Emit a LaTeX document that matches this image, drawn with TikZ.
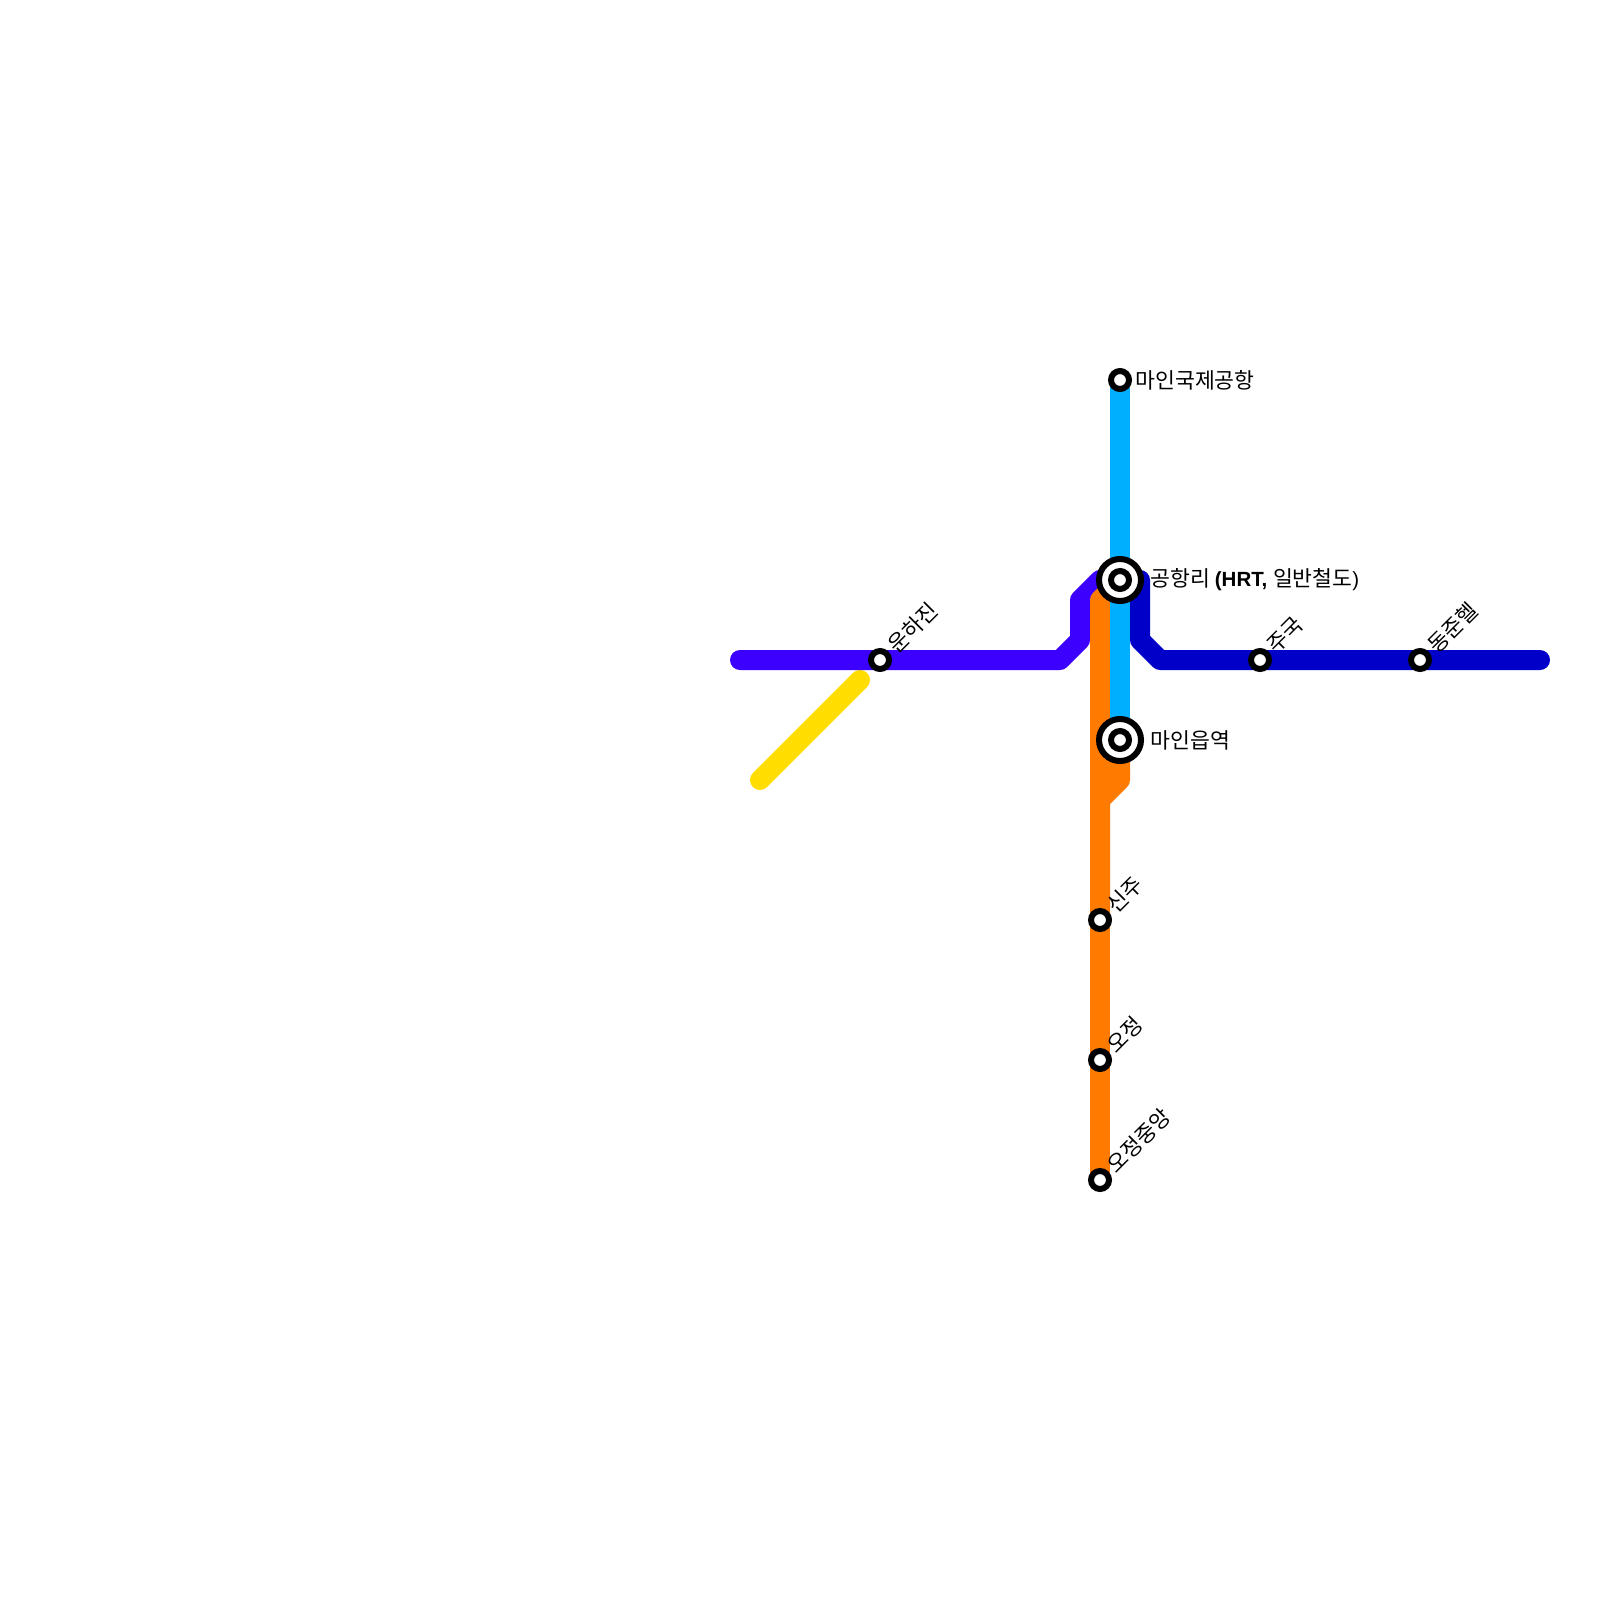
\documentclass[tikz,border=0pt]{standalone}
\usepackage{fontspec}
\setmainfont{Noto Sans CJK KR}
\newfontfamily\latinfont[Scale=0.95]{Liberation Sans}
\usetikzlibrary{backgrounds}
\definecolor{mapviolet}{RGB}{60,0,255}
\definecolor{mapnavy}{RGB}{0,0,200}
\definecolor{mapsky}{RGB}{0,176,255}
\definecolor{maporange}{RGB}{255,123,0}
\definecolor{mapyellow}{RGB}{255,221,0}
\tikzset{
  mapline/.style={line width=10pt, line cap=round, line join=round},
  mapstop/.style={draw=black, circle, fill=white, line width=3pt, minimum size=9pt, inner sep=0pt, outer sep=0pt},
  maphub/.style={draw=black, circle, fill=white, line width=3pt, minimum size=21pt, inner sep=0pt, outer sep=0pt},
  mapcore/.style={draw=black, circle, fill=white, line width=3pt, minimum size=9pt, inner sep=0pt, outer sep=0pt},
  maplab/.style={anchor=west, inner sep=0pt, font=\fontsize{10.8}{13}\selectfont},
  maplabup/.style={maplab, rotate=45}
}
\begin{document}
\begin{tikzpicture}[x=0.5pt, y=-0.5pt]
  \useasboundingbox (0,0) rectangle (1600,1600);
  \node[mapstop] (airport) at (1120,380) {};
  \node[maphub] (gonghang) at (1120,580) {};
  \node[mapcore] (gonghangcore) at (gonghang) {};
  \node[maphub] (maino) at (1120,740) {};
  \node[mapcore] (mainocore) at (maino) {};
  \node[mapstop] (unha) at (880,660) {};
  \node[mapstop] (jugok) at (1260,660) {};
  \node[mapstop] (dongjun) at (1420,660) {};
  \node[mapstop] (sinju) at (1100,920) {};
  \node[mapstop] (ojeong) at (1100,1060) {};
  \node[mapstop] (ojeongc) at (1100,1180) {};
  \coordinate (westend) at (740,660);
  \coordinate (eastend) at (1540,660);
  \coordinate (yellowa) at (760,780);
  \coordinate (yellowb) at (860,680);
  \begin{scope}[on background layer]
    \draw[mapline, mapyellow] (yellowa) -- (yellowb);
    \draw[mapline, mapviolet] (westend) -- (unha.center) -- (1060,660) -- (1080,640) -- (1080,600) -- (1100,580) -- (gonghang.center);
    \draw[mapline, mapnavy] (gonghang.center) -- (1140,580) -- (1140,640) -- (1160,660) -- (jugok.center) -- (dongjun.center) -- (eastend);
    \draw[mapline, line cap=butt, maporange] (gonghang.center) -- (1100,600) -- (sinju.center);
    \draw[mapline, line cap=butt, maporange] (maino.center) -- (1120,780) -- (1100,800);
    \draw[mapline, line cap=butt, maporange] (sinju.center) -- (ojeong.center) -- (ojeongc.center);
    \draw[mapline, line cap=butt, mapsky] (airport.center) -- (maino.center);
  \end{scope}
  \node[maplab] (airportlab) at (1135,380) {마인국제공항};
  \node[maplab] (gonghanglab) at (1150,580) {공항리 {\latinfont\bfseries (HRT, }일반철도{\latinfont )}};
  \node[maplab] (mainolab) at (1150,740) {마인읍역};
  \node[maplabup] (unhalab) at (891,649) {운하진};
  \node[maplabup] (juguklab) at (1271,649) {주국};
  \node[maplabup] (dongjunlab) at (1431,649) {동준헬};
  \node[maplabup] (sinjulab) at (1110,909) {신주};
  \node[maplabup] (ojeonglab) at (1110,1049) {오정};
  \node[maplabup] (ojeongclab) at (1110,1169) {오정중앙};
\end{tikzpicture}
\end{document}
